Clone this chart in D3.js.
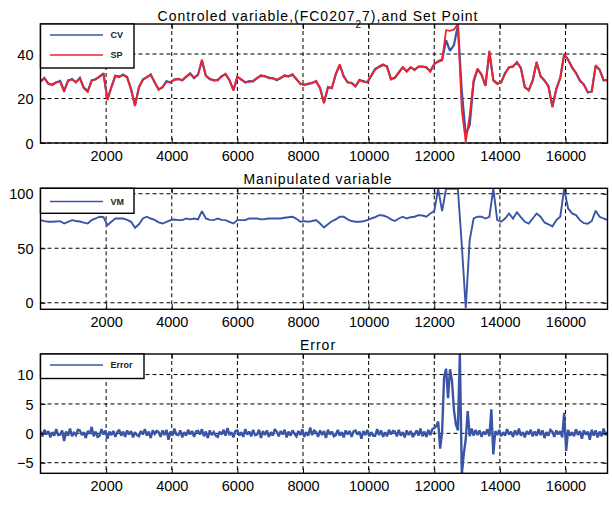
<!DOCTYPE html>
<html><head><meta charset="utf-8">
<script src="https://cdn.jsdelivr.net/npm/d3@7/dist/d3.min.js"></script>
<style>body{margin:0;background:#fff}svg{display:block}</style>
</head><body><svg id="chart" width="612" height="505"></svg>
<script>
// ---- data ----
const sampleStep = 120;      // samples every 120 ticks, 0 .. 17280
const xMax = 17280;
const xTicks = [2000, 4000, 6000, 8000, 10000, 12000, 14000, 16000];

const spValues = [
 27.5,29,26.8,26,27.5,27.5,23,28.3,28.5,27.5,
 29,24.5,23,28.3,28.5,30,31,19.2,25.3,30,
 30,30.5,29.8,23.8,16.6,25.3,28.3,29.8,30.5,27.5,
 23.8,25.3,27.5,27.5,28.3,29,28,30,31,29.5,
 30.5,37.5,30,29,28,28.5,29.8,31.2,28,23.5,
 30,28.3,27.5,27.5,28,29,30.5,29.8,29.5,28.9,
 28.5,29,30.5,29.8,31,28.5,26.8,26,26.8,26.8,
 28,24.5,17.8,25.3,24.5,31.2,35.4,29.8,27.5,26.8,
 25.3,28.5,27.5,27.5,30.5,33,34.5,35.4,34.2,28.5,
 29.5,31.5,34.2,32,34.2,32.7,34.5,34.2,34.2,32,
 35.7,36.5,37.2,50.7,50.4,51,53.4,14.8,0.5,12.5,
 28.3,33.5,30.5,26,41.5,28,26.5,27.5,31.2,34.2,
 34.2,36.5,33.5,25.3,23.5,28.3,36.5,29.8,28.3,25.3,
 16,24.5,29,40.2,37.2,34.2,31.2,28.3,26,23,
 23,35,32.7,28.5,28
];
const cvValues = [
 27.8,29.3,26.5,26.3,27.2,27.9,23.4,28,28.8,27.2,
 29.3,24.9,23.3,28,28.8,29.7,31.3,19.6,25,30.3,
 29.7,30.8,29.5,24.2,17,25,28.6,29.5,30.8,27.2,
 24.2,25,27.8,27.2,28.6,28.7,28.3,29.7,31.3,29.2,
 30.8,37,30.3,28.7,28.3,28.2,30.1,30.9,28.3,23.9,
 29.7,28.6,27.2,27.8,27.7,29.3,30.2,30.1,29.2,29.2,
 28.2,29.3,30.2,30.1,30.7,28.8,26.5,26.3,26.5,27.1,
 27.7,24.8,18.2,25,24.8,30.9,35,30.1,27.2,27.1,
 25.6,28.2,27.8,27.2,30.2,33.3,34.2,35.1,34.5,28.8,
 29.2,31.8,33.9,32.3,33.9,33,34.2,34.5,33.9,32.3,
 35.4,36.8,37.5,46.2,41.4,44,53,23,4,8,
 27.5,33.2,30.8,25.7,40.8,28.3,26.8,27.2,31.5,33.9,
 34.5,36.2,33.8,25,23.8,28,36.2,30.1,28,25.6,
 16.4,24.2,29.3,39.8,37.5,33.9,31.5,28,26.3,22.7,
 23.3,34.7,33,28.2,28.3
];
const vmValues = [
 75.8,74.9,74.3,74.3,74.6,74.9,72.7,74.3,75.8,75,
 74.5,73.5,72.7,75.8,77.3,78.9,78.5,71.2,74.3,77.3,
 77.3,77.3,76,74.3,68.8,72,77.3,78.9,77.3,76,
 73.7,72.7,74.3,75.8,76.4,75.8,75.8,77.3,76.5,77.3,
 76.5,84,77.3,76,75.8,77.3,76,75.8,74.3,72.7,
 75.8,75.8,75.8,77.3,77.3,77.3,76.5,76.8,77.3,77.3,
 77.3,77.3,78,78.5,78.9,77,74.3,74.9,74.3,75,
 75.8,72.7,69,72,74.8,76.5,78.9,78.9,76.5,75,
 74.3,74.3,74.8,75.8,77.3,78.5,80.4,80,78.9,76.5,
 75,77.3,78.9,77.3,78.5,78.9,80.4,80,78.9,81.9,
 84,104.5,84,104.5,104.5,104.5,104.5,52.9,-5,57.5,
 77.3,78.9,78.9,77.3,78.9,104.5,75.8,74.3,77.3,81.9,
 77.3,83,78.5,74.3,72.7,77.3,81.9,79,73.7,72,
 70,75.8,78.9,104.5,86.5,82,80.4,75.8,73,72.5,
 75,84.5,78.9,77.3,75.8
];
const errorStep = 60;
const errorValues = [
 0.3,-0.5,0.6,-0.2,0.4,-0.7,0.2,-0.4,0.7,-0.3,
 -0.2,0.5,-1.3,0.3,-0.4,0.8,-0.5,0.1,-0.3,0.6,
 0.5,-0.3,0.2,-0.8,0.4,-0.1,1.1,-0.5,0.3,-0.6,
 -0.4,0.7,-0.2,0.5,-0.9,0.3,-0.3,0.4,-0.6,0.2,
 0.6,-0.4,0.3,-0.6,0.5,-0.2,0.4,-0.7,0.2,-0.3,
 -0.5,0.4,-0.2,0.7,-0.4,0.3,-0.8,0.5,-0.1,0.4,
 0.2,-0.6,0.5,-0.3,0.6,-1.1,0.3,-0.4,0.8,-0.2,
 -0.3,0.5,-0.7,0.2,-0.4,0.6,-0.2,0.4,-0.6,0.3,
 0.4,-0.2,0.7,-0.5,0.3,-0.8,0.5,-0.3,0.2,-0.4,
 -0.6,0.3,-0.2,0.6,-0.4,0.9,-0.3,0.2,-0.7,0.4,
 0.5,-0.4,0.2,-0.6,0.7,-0.2,0.3,-0.5,0.6,-0.3,
 -0.2,0.6,-0.8,0.4,-0.3,0.5,-0.6,0.2,-0.4,0.7,
 0.3,-0.5,0.4,-0.2,0.6,-0.7,0.3,-0.4,0.5,-0.1,
 -0.5,0.4,-0.3,0.7,-0.6,0.2,-0.4,1.0,-0.3,0.5,
 0.2,-0.6,0.5,-0.3,0.4,-0.8,0.6,-0.2,0.3,-0.5,
 -0.3,0.6,-0.4,0.2,-0.7,0.5,-0.2,0.4,-0.6,0.3,
 0.5,-0.2,0.3,-0.9,0.4,-0.3,0.6,-0.5,0.2,-0.4,
 -0.4,0.7,-0.3,0.5,-0.6,0.2,-0.5,0.6,-0.2,0.4,
 0.3,-0.5,0.6,-0.4,0.2,-0.7,0.5,-0.3,0.4,-0.6,
 -0.2,0.5,-0.4,0.8,-0.5,0.3,-0.6,0.6,-0.3,0.7,
 0.9,1.2,2.0,-2.6,0.3,9.5,11,6,10.9,9,
 4,1.5,0.5,13.5,-7,-3.5,-1,3.8,-0.5,0.8,
 -0.4,0.6,-0.3,0.5,-0.6,0.3,-0.2,0.7,-0.5,4.1,
 -3.6,0.4,-0.3,0.6,-0.5,0.2,-0.4,0.7,-0.2,0.3,
 -0.6,0.5,-0.3,0.8,-0.4,0.2,-0.7,0.4,-0.2,0.6,
 -0.5,0.3,-0.4,0.7,-0.3,0.5,-0.8,0.2,-0.4,0.6,
 0.3,-0.6,0.5,-0.2,0.4,-0.7,3.5,-3.0,0.6,-0.4,
 0.2,-0.5,0.7,-0.3,0.4,-0.9,0.5,-0.2,0.3,-1.1,
 0.6,-0.4,0.5,-0.7,0.3,-0.5,0.8,-0.3,0.2
];
const yTicks1 = [0, 20, 40];
const yTicks2 = [0, 50, 100];
const yTicks3 = [-5, 0, 5, 10];
const legend1 = ["CV", "SP"];
const legend2 = ["VM"];
const legend3 = ["Error"];

// ---- drawing ----
const BLUE = "#3a55a6", RED = "#f2222c";
const svg = d3.select("#chart");
svg.append("rect").attr("width", 612).attr("height", 505).attr("fill", "#fff");

const x = d3.scaleLinear().domain([0, xMax]).range([40.5, 607.5]);

const panels = [
  {id: 1, top: 24, bottom: 143, domain: [0, 53.5], ticks: yTicks1, titleY: 21,
   series: [{v: cvValues, s: sampleStep, c: BLUE, w: 2.2}, {v: spValues, s: sampleStep, c: RED, w: 1.8}],
   legend: {w: 93.5, h: 44, rows: [11, 31], items: [[legend1[0], BLUE], [legend1[1], RED]]}},
  {id: 2, top: 188.3, bottom: 309.3, domain: [-6, 105], ticks: yTicks2, titleY: 184,
   series: [{v: vmValues, s: sampleStep, c: BLUE, w: 1.9}],
   legend: {w: 93.5, h: 25, rows: [13.2], items: [[legend2[0], BLUE]]}},
  {id: 3, top: 354, bottom: 473.3, domain: [-6.8, 13.5], ticks: yTicks3, titleY: 350,
   series: [{v: errorValues, s: errorStep, c: BLUE, w: 2.4}],
   legend: {w: 103.5, h: 24.5, rows: [11], items: [[legend3[0], BLUE]]}}
];

const FONT = "'Liberation Sans', Arial, sans-serif";

panels.forEach(p => {
  const y = d3.scaleLinear().domain(p.domain).range([p.bottom, p.top]);
  const g = svg.append("g");
  const L = x.range()[0], R = x.range()[1];

  g.append("clipPath").attr("id", "clip" + p.id)
    .append("rect").attr("x", L).attr("y", p.top).attr("width", R - L).attr("height", p.bottom - p.top);

  // grid
  const grid = g.append("g").attr("stroke", "#000").attr("stroke-width", 1).attr("stroke-dasharray", "4,3");
  xTicks.forEach(t => grid.append("line").attr("x1", x(t)).attr("x2", x(t)).attr("y1", p.top).attr("y2", p.bottom));
  p.ticks.forEach(t => grid.append("line").attr("x1", L).attr("x2", R).attr("y1", y(t)).attr("y2", y(t)));

  // series
  const plot = g.append("g").attr("clip-path", `url(#clip${p.id})`);
  p.series.forEach(s => {
    const line = d3.line().x((d, i) => x(i * s.s)).y(d => y(d));
    plot.append("path").attr("d", line(s.v)).attr("fill", "none")
      .attr("stroke", s.c).attr("stroke-width", s.w).attr("stroke-linejoin", "miter")
      .attr("stroke-miterlimit", 2);
  });

  // axes (MATLAB style box with inward ticks)
  const fmt = d3.format("d");
  const xAxB = d3.axisBottom(x).tickValues(xTicks).tickFormat(fmt).tickSizeInner(-5).tickSizeOuter(0).tickPadding(10);
  const xAxT = d3.axisTop(x).tickValues(xTicks).tickSizeInner(-5).tickSizeOuter(0).tickFormat("");
  const yAxL = d3.axisLeft(y).tickValues(p.ticks).tickFormat(fmt).tickSizeInner(-5).tickSizeOuter(0).tickPadding(8);
  const yAxR = d3.axisRight(y).tickValues(p.ticks).tickSizeInner(-5).tickSizeOuter(0).tickFormat("");
  const axB = g.append("g").attr("transform", `translate(0,${p.bottom})`).call(xAxB);
  g.append("g").attr("transform", `translate(0,${p.top})`).call(xAxT);
  const axL = g.append("g").attr("transform", `translate(${L},0)`).call(yAxL);
  g.append("g").attr("transform", `translate(${R},0)`).call(yAxR);
  g.selectAll(".domain").remove();
  g.selectAll(".tick line").attr("stroke", "#000");
  axB.selectAll("text").attr("font-family", FONT).attr("font-size", 14.5).attr("fill", "#000")
    .attr("dy", null).attr("y", 17.5);
  axL.selectAll("text").attr("font-family", FONT).attr("font-size", 14.5).attr("fill", "#000")
    .attr("dy", "0.36em").attr("x", -7);

  g.append("rect").attr("x", L).attr("y", p.top).attr("width", R - L).attr("height", p.bottom - p.top)
    .attr("fill", "none").attr("stroke", "#000").attr("stroke-width", 1.4);

  // legend
  const lg = g.append("g").attr("transform", `translate(${L},${p.top})`);
  lg.append("rect").attr("width", p.legend.w).attr("height", p.legend.h)
    .attr("fill", "#fff").attr("stroke", "#000").attr("stroke-width", 1.4);
  p.legend.items.forEach((it, i) => {
    const ry = p.legend.rows[i];
    lg.append("line").attr("x1", 9.5).attr("x2", 62.5).attr("y1", ry).attr("y2", ry)
      .attr("stroke", it[1]).attr("stroke-width", 1.4);
    lg.append("text").attr("x", 70).attr("y", ry).attr("dy", "0.35em")
      .attr("font-family", FONT).attr("font-size", 9).attr("font-weight", "bold")
      .attr("fill", "#222").text(it[0]);
  });
});

// titles
const tStyle = t => t.attr("font-family", FONT).attr("font-size", 14).attr("letter-spacing", "1px")
  .attr("text-anchor", "middle").attr("fill", "#000");
const t1 = svg.append("text").attr("x", 318).attr("y", panels[0].titleY).call(tStyle);
t1.append("tspan").text("Controled variable,(FC0207");
t1.append("tspan").attr("dy", 7).attr("font-size", 10).text("2");
t1.append("tspan").attr("dy", -7).text("7),and Set Point");
svg.append("text").attr("x", 318).attr("y", panels[1].titleY).call(tStyle).text("Manipulated variable");
svg.append("text").attr("x", 318).attr("y", panels[2].titleY).call(tStyle).text("Error");
</script></body></html>
